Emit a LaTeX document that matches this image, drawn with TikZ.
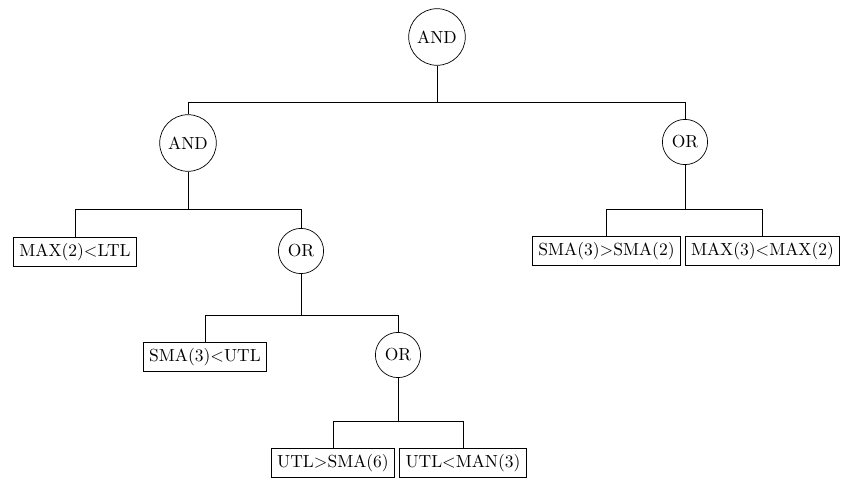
\documentclass[tikz,border=0pt]{standalone}
\usetikzlibrary{calc}
\begin{document}
\begin{tikzpicture}[x=0.5714pt,y=-0.5714pt,
  op/.style={draw,circle,inner sep=3.33pt},
  leaf/.style={draw,rectangle,inner sep=3.33pt},
  edge/.style={draw,line width=0.4pt}]
\useasboundingbox (0,0) rectangle (858,488);
\node[op] (root) at (437,37) {AND};
\node[op] (and1) at (188,143) {AND};
\node[op] (or1) at (685,142) {OR};
\node[leaf] (l1) at (75,252) {MAX(2)$<$LTL};
\node[op] (or2) at (301,251) {OR};
\node[leaf] (l2) at (606.5,251) {SMA(3)$>$SMA(2)};
\node[leaf] (l3) at (762.5,251) {MAX(3)$<$MAX(2)};
\node[leaf] (l4) at (205,357) {SMA(3)$<$UTL};
\node[op] (or3) at (398,355) {OR};
\node[leaf] (l5) at (333,463) {UTL$>$SMA(6)};
\node[leaf] (l6) at (463,463) {UTL$<$MAN(3)};
\coordinate (b1) at (0,102);
\coordinate (b2) at (0,209);
\coordinate (b3) at (0,315);
\coordinate (b4) at (0,421);
\draw[edge] (root.south) -- (root.south |- b1) -| (and1.north);
\draw[edge] (root.south |- b1) -| (or1.north);
\draw[edge] (and1.south) -- (and1.south |- b2) -| (l1.north);
\draw[edge] (and1.south |- b2) -| (or2.north);
\draw[edge] (or1.south) -- (or1.south |- b2) -| (l2.north);
\draw[edge] (or1.south |- b2) -| (l3.north);
\draw[edge] (or2.south) -- (or2.south |- b3) -| (l4.north);
\draw[edge] (or2.south |- b3) -| (or3.north);
\draw[edge] (or3.south) -- (or3.south |- b4) -| (l5.north);
\draw[edge] (or3.south |- b4) -| (l6.north);
\end{tikzpicture}
\end{document}
